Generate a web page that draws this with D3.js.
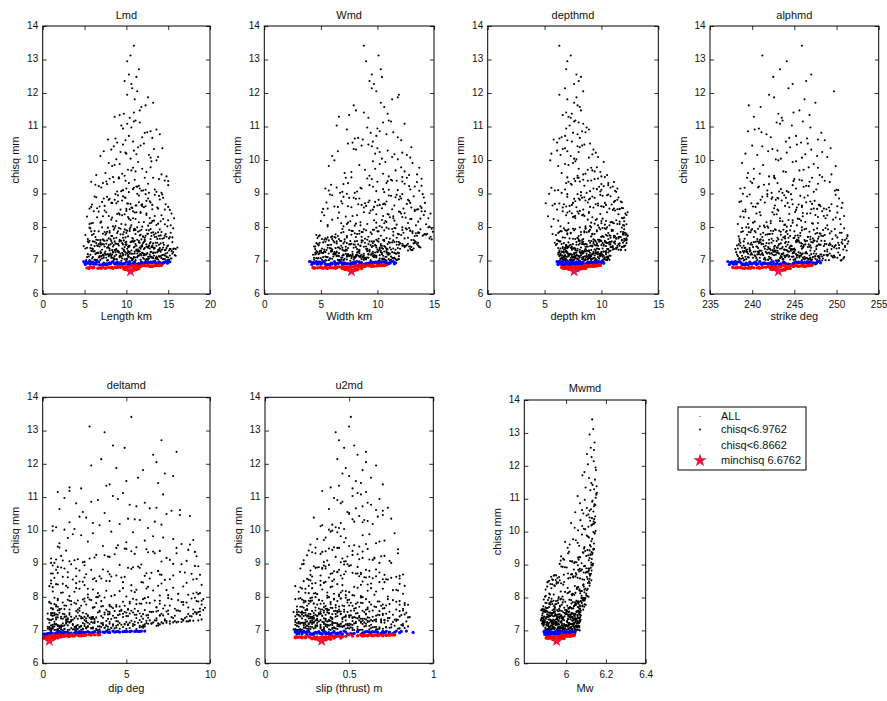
<!DOCTYPE html>
<html>
<head>
<meta charset="utf-8">
<script src="https://cdn.jsdelivr.net/npm/d3@7"></script>
<style>
  body { margin: 0; background: #fff; }
  text { font-family: "Liberation Sans", Arial, Helvetica, sans-serif; fill: #111; }
</style>
</head>
<body>
<svg id="chart" width="887" height="701"></svg>
<script>
// ---- Monte Carlo samples: misfit and the seven source parameters of each sample ----
const chisq = [
  6.99,7.02,7.15,7.08,7.27,7.11,7.04,7.21,7.18,7.01,7.24,7.06,7.13,7.29,7.09,7.17,7.03,7.22,7.12,7.26,
  7.05,7.19,7.00,7.28,7.14,7.07,7.23,7.10,7.16,7.02,7.25,7.20,7.08,7.13,7.29,7.01,7.18,7.04,7.22,7.11,
  7.16,7.03,7.27,7.09,7.21,7.00,7.14,7.24,7.06,7.19,7.12,7.28,7.02,7.17,7.10,7.23,7.05,7.26,7.15,7.08,
  7.22,7.11,7.04,7.18,7.29,7.07,7.13,7.01,7.25,7.16,7.09,7.20,7.03,7.27,7.14,7.06,7.24,7.12,7.00,7.19,
  7.10,7.26,7.17,7.02,7.21,7.13,7.05,7.28,7.08,7.23,7.15,7.01,7.19,7.11,7.25,7.04,7.16,7.22,7.07,7.14,
  7.31,7.45,7.38,7.56,7.33,7.49,7.42,7.59,7.36,7.52,7.40,7.47,7.34,7.58,7.43,7.37,7.54,7.31,7.50,7.44,
  7.39,7.57,7.32,7.46,7.53,7.35,7.48,7.41,7.60,7.37,7.51,7.44,7.30,7.55,7.42,7.49,7.34,7.58,7.39,7.46,
  7.52,7.36,7.43,7.31,7.57,7.48,7.40,7.54,7.33,7.45,7.59,7.38,7.50,7.35,7.47,7.56,7.41,7.32,7.53,7.44,
  7.47,7.33,7.55,7.40,7.36,7.51,7.58,7.42,7.30,7.49,7.37,7.54,7.45,7.39,7.60,7.34,7.48,7.43,7.57,7.35,
  7.62,7.81,7.70,7.95,7.66,7.88,7.74,7.99,7.64,7.85,7.77,7.92,7.68,7.83,7.61,7.90,7.72,7.97,7.79,7.86,
  7.75,7.63,7.93,7.69,7.87,7.80,7.65,7.96,7.73,7.84,7.61,7.91,7.78,7.67,7.98,7.71,7.89,7.76,7.64,7.82,
  7.88,7.71,7.66,7.94,7.79,7.62,7.85,7.74,7.99,7.68,7.83,7.90,7.63,7.77,7.96,7.70,7.87,7.65,7.81,7.93,
  8.03,8.27,8.12,8.44,8.08,8.35,8.19,8.49,8.05,8.31,8.15,8.40,8.22,8.01,8.38,8.10,8.46,8.25,8.17,8.33,
  8.14,8.41,8.06,8.29,8.47,8.20,8.02,8.36,8.11,8.43,8.24,8.09,8.32,8.18,8.48,8.04,8.39,8.26,8.13,8.45,
  8.52,8.78,8.61,8.93,8.57,8.84,8.68,8.99,8.55,8.73,8.88,8.63,8.96,8.70,8.51,8.81,8.66,8.91,8.59,8.76,
  8.64,8.90,8.53,8.79,8.97,8.69,8.56,8.85,8.72,8.60,8.94,8.75,8.58,8.87,8.67,8.98,8.54,8.82,8.71,8.62,
  9.04,9.31,9.12,9.45,9.08,9.26,9.39,9.17,9.49,9.02,9.35,9.21,9.43,9.10,9.28,9.47,9.15,9.37,9.06,9.23,
  9.53,9.78,9.61,9.94,9.57,9.85,9.69,9.99,9.55,9.74,9.88,9.64,9.91,9.71,9.51,9.82,9.66,9.96,9.59,9.77,
  10.04,10.31,10.15,10.46,10.09,10.26,10.38,10.19,10.49,10.02,10.35,10.22,10.43,10.12,10.28,10.07,10.41,10.17,10.33,10.24,
  10.55,10.83,10.64,11.12,10.59,10.91,10.72,11.18,10.61,10.86,11.03,10.68,10.97,10.77,10.52,11.08,10.81,10.94,10.66,11.15,
  11.26,11.58,11.34,11.87,11.42,12.05,11.29,11.71,11.95,11.48,11.38,12.14,11.63,11.81,
  12.27,12.48,12.95,13.12,12.36,13.41,12.71,12.55,
  7.03,7.18,7.10,7.26,7.01,7.14,7.22,7.07,7.29,7.12,7.05,7.20,7.16,7.00,7.24,7.09,7.27,7.13,7.04,7.19,
  7.21,7.06,7.28,7.11,7.17,7.02,7.25,7.15,7.08,7.23,7.00,7.13,7.27,7.04,7.18,7.10,7.22,7.06,7.29,7.14,
  7.12,7.24,7.01,7.19,7.07,7.28,7.15,7.03,7.21,7.10,7.26,7.05,7.17,7.09,7.23,7.02,7.13,7.25,7.08,7.20,
  7.27,7.09,7.16,7.04,7.22,7.11,7.00,7.25,7.13,7.18,7.06,7.29,7.02,7.20,7.14,7.26,7.08,7.17,7.11,7.23,
  7.33,7.51,7.42,7.59,7.36,7.47,7.31,7.55,7.40,7.49,7.34,7.57,7.44,7.38,7.53,7.30,7.46,7.41,7.58,7.37,
  7.48,7.35,7.56,7.43,7.32,7.52,7.39,7.60,7.45,7.34,7.50,7.41,7.57,7.36,7.47,7.54,7.31,7.44,7.38,7.53,
  7.40,7.58,7.33,7.49,7.45,7.37,7.55,7.30,7.52,7.42,7.59,7.35,7.48,7.43,7.32,7.56,7.39,7.51,7.46,7.34,
  7.67,7.84,7.73,7.91,7.62,7.79,7.95,7.70,7.86,7.64,7.82,7.98,7.75,7.68,7.89,7.61,7.77,7.93,7.72,7.80,
  7.80,7.66,7.94,7.74,7.87,7.63,7.97,7.71,7.83,7.69,7.90,7.76,7.62,7.85,7.99,7.78,7.65,7.92,7.73,7.88,
  8.07,8.33,8.16,8.42,8.02,8.28,8.21,8.47,8.11,8.37,8.05,8.24,8.44,8.13,8.30,8.09,8.40,8.18,8.35,8.26,
  8.58,8.81,8.66,8.95,8.52,8.74,8.89,8.62,8.98,8.70,8.55,8.85,8.68,8.92,8.60,8.77,8.53,8.87,8.72,8.64,
  9.07,9.29,9.18,9.41,9.02,9.34,9.13,9.47,9.22,9.09,9.38,9.25,9.44,9.15,9.31,9.05,9.36,9.20,9.48,9.11
];
const lengthKm = [
  9.4,6.2,11.8,13.7,7.5,10.3,14.6,8.1,12.4,5.6,9.9,15.3,7.0,11.2,13.1,8.8,10.7,6.6,12.9,14.1,
  10.1,7.8,13.4,5.9,11.5,8.5,14.9,9.2,12.1,6.9,15.6,10.6,7.3,13.9,9.7,11.1,8.3,14.4,6.4,12.6,
  12.2,8.9,6.1,10.9,14.7,7.7,11.4,13.3,9.5,5.4,12.8,10.2,15.1,8.0,6.8,11.9,13.6,9.1,7.2,10.5,
  7.4,13.0,9.8,11.6,5.8,14.2,8.6,12.3,10.4,15.8,6.7,9.3,13.8,11.0,7.9,12.7,8.4,14.8,10.0,6.3,
  11.3,9.0,14.5,6.5,12.0,8.2,10.8,15.4,7.6,13.5,9.6,5.2,11.7,14.0,8.7,12.5,10.2,6.9,13.2,9.3,
  8.3,12.7,5.3,10.6,14.3,7.1,11.9,9.4,15.7,6.4,13.1,10.0,8.8,12.2,4.9,14.8,9.9,11.3,7.6,13.6,
  10.9,6.0,13.8,8.5,11.6,15.2,7.3,12.4,9.7,5.7,14.1,10.3,8.0,12.9,6.8,11.1,15.9,9.2,13.3,7.9,
  12.0,9.5,6.6,14.6,10.8,8.1,13.0,5.5,11.4,15.0,7.4,12.6,9.0,10.1,13.9,6.2,11.8,8.7,14.4,10.4,
  7.0,11.2,15.5,9.8,5.9,12.8,10.7,8.4,14.0,6.9,13.4,11.5,9.1,16.1,7.7,12.1,10.0,14.9,8.6,11.7,
  9.2,13.5,6.3,11.0,15.1,8.0,12.3,10.5,5.4,14.2,7.5,11.8,9.6,13.0,6.9,12.7,10.2,8.6,14.7,11.4,
  11.6,7.2,14.0,9.9,5.8,12.5,10.8,15.6,8.3,13.2,6.6,11.1,9.3,14.5,7.8,12.0,10.1,5.1,13.7,8.9,
  10.4,14.8,8.5,12.9,6.1,11.3,9.7,13.9,7.1,12.2,15.3,10.0,8.1,11.7,5.7,13.4,9.0,14.3,7.6,10.9,
  8.7,12.8,6.0,11.2,14.6,9.5,13.3,7.4,10.6,5.3,12.1,15.4,8.2,11.9,9.8,13.8,6.7,10.3,14.1,7.9,
  11.5,9.1,13.6,6.5,10.8,15.0,8.4,12.4,5.8,11.0,14.4,9.4,7.2,13.1,10.0,12.6,8.9,15.7,6.9,11.7,
  9.3,12.4,6.8,13.9,10.7,8.0,14.7,11.3,5.6,12.9,9.8,7.4,13.4,10.2,15.2,8.6,11.8,6.2,12.1,9.0,
  11.1,7.7,13.1,9.5,14.3,10.5,6.5,12.6,8.3,15.0,11.5,7.1,13.7,9.9,5.9,12.3,10.0,14.0,8.8,11.9,
  10.3,7.2,13.4,9.1,11.8,6.3,14.6,10.9,8.4,12.7,5.8,11.2,13.9,9.6,7.7,12.2,10.0,15.0,8.9,11.5,
  9.8,12.9,7.5,11.4,14.2,8.6,10.6,13.6,6.4,11.9,9.2,12.4,7.9,10.2,14.8,8.3,11.1,13.0,9.5,10.8,
  10.5,8.2,12.7,9.6,13.8,7.3,11.4,10.0,12.1,8.8,14.3,9.9,11.7,6.9,10.9,12.9,8.5,11.2,13.3,9.3,
  10.8,12.5,8.7,11.6,9.9,13.6,10.3,11.1,7.8,12.9,9.4,11.9,10.6,14.0,8.9,10.1,12.2,9.6,13.1,10.9,
  10.4,11.8,9.2,12.6,10.9,11.3,8.6,13.2,10.1,11.6,9.7,10.7,12.3,11.0,
  10.6,11.2,10.1,10.5,9.8,10.9,11.5,10.3,
  8.6,12.8,6.0,11.4,14.9,7.3,10.1,13.5,9.0,5.5,12.1,15.5,8.0,10.7,6.6,13.0,11.6,7.9,14.4,9.6,
  11.0,7.1,13.8,9.4,5.7,12.6,10.3,15.2,8.3,11.9,6.4,14.1,9.8,12.4,7.6,10.9,13.2,5.9,8.9,15.9,
  13.6,9.1,7.8,12.2,10.6,6.2,14.6,8.5,11.3,5.3,13.0,10.0,7.2,15.0,9.5,11.7,6.8,12.9,8.2,10.4,
  6.9,11.1,14.3,8.8,12.5,10.2,5.6,13.7,9.2,7.5,15.4,11.5,6.3,10.8,13.3,8.4,12.0,9.9,14.8,7.0,
  9.7,13.2,7.4,11.0,5.1,14.5,8.6,12.1,10.3,6.7,15.3,9.2,11.8,7.9,13.7,10.6,5.8,12.5,8.2,14.0,
  12.4,8.0,10.9,6.2,14.2,9.5,11.6,7.3,13.1,15.6,8.8,10.2,5.4,12.8,9.9,6.9,14.7,11.2,7.7,13.5,
  7.8,11.5,13.9,9.0,6.5,12.2,10.5,15.1,8.3,11.0,5.6,13.3,9.6,12.7,7.1,10.0,14.4,8.7,11.9,6.0,
  10.7,13.8,8.2,12.4,6.4,11.1,9.3,15.2,7.7,12.9,10.0,5.6,14.1,8.8,11.6,6.9,13.3,9.8,12.0,7.2,
  12.6,7.9,10.4,14.6,6.7,11.8,9.1,13.6,8.0,15.5,10.9,5.9,12.2,7.4,11.3,9.6,14.0,8.5,13.0,6.2,
  9.9,13.4,7.0,11.7,14.9,8.3,10.5,6.1,12.8,9.2,15.3,11.1,7.6,13.0,10.2,5.6,12.4,8.8,14.2,10.8,
  10.6,7.9,13.1,9.0,14.6,11.5,6.4,12.3,8.7,10.1,13.8,7.3,11.9,9.6,5.8,12.8,10.4,14.4,8.2,11.2,
  9.4,12.6,7.0,11.0,14.2,8.5,10.8,13.2,6.7,12.0,9.9,15.0,8.0,11.6,10.3,13.6,7.6,11.3,9.1,12.3
];
const widthKm = [
  7.6,5.1,9.8,11.3,6.4,8.7,10.5,4.6,9.2,7.0,11.8,5.8,8.1,10.1,6.9,9.5,7.3,11.0,5.4,8.4,
  9.0,6.1,10.8,4.9,8.3,7.7,11.5,5.6,9.7,6.6,10.3,8.8,4.4,11.9,7.2,9.4,6.3,10.6,5.2,8.0,
  10.2,7.9,5.0,9.1,11.6,6.7,8.5,10.9,4.7,7.4,9.9,6.0,11.2,8.2,5.5,10.4,7.1,9.6,6.5,8.9,
  6.2,10.7,8.6,4.5,9.3,11.4,7.5,5.7,10.0,8.1,6.8,11.7,9.0,5.3,7.8,10.2,6.4,8.7,11.1,4.8,
  8.5,5.9,11.0,7.0,9.6,6.6,10.4,4.6,8.0,11.5,7.6,5.4,9.2,10.8,6.2,8.8,7.3,11.9,5.0,9.9,
  8.4,12.3,5.6,10.1,7.2,13.5,9.0,6.1,11.4,4.6,10.7,8.0,12.9,6.8,9.6,11.8,5.2,13.1,7.7,10.3,
  11.1,6.4,9.3,12.6,4.9,10.5,7.6,13.7,8.6,5.8,12.0,9.9,7.0,11.5,4.4,10.9,8.2,13.3,6.6,9.4,
  7.3,10.8,12.5,5.5,9.7,8.3,13.0,6.2,11.2,4.8,10.0,7.9,12.2,9.1,5.9,11.7,8.8,6.9,13.6,10.4,
  9.8,5.3,11.9,8.1,13.2,7.0,10.6,4.5,12.7,9.2,6.3,11.3,8.5,13.8,5.7,10.2,7.5,12.4,9.5,6.7,
  9.1,13.4,6.2,11.0,14.6,7.8,10.3,12.2,5.1,8.7,14.1,9.6,11.7,6.8,13.0,10.6,4.8,12.8,8.2,14.9,
  11.4,7.1,13.8,5.6,10.0,14.4,8.9,12.5,6.5,9.4,13.2,7.5,11.9,4.7,10.8,14.7,8.4,12.1,6.0,13.6,
  12.9,8.6,5.4,11.3,14.2,9.9,7.0,13.5,10.4,6.3,12.3,9.0,14.8,7.7,11.6,5.9,13.1,10.1,8.0,12.6,
  10.2,6.5,12.7,8.8,14.3,5.3,11.5,9.4,13.4,7.2,10.8,12.1,6.0,14.6,9.9,8.1,11.9,13.8,7.6,10.5,
  8.5,12.4,5.6,11.1,13.9,9.7,7.0,14.1,10.6,6.6,12.9,9.1,11.4,5.0,13.3,8.0,10.9,14.5,7.4,12.0,
  9.6,12.8,6.2,11.2,13.9,8.1,10.5,7.3,12.3,5.5,14.1,9.0,11.7,6.9,13.3,10.1,8.6,12.0,7.7,10.8,
  11.5,7.0,13.6,9.3,5.8,12.6,10.4,8.4,14.2,6.5,11.0,9.8,13.0,7.5,10.7,12.2,5.2,11.9,8.9,13.8,
  10.6,7.4,12.9,9.1,13.7,5.9,11.3,8.5,12.2,6.7,10.0,13.3,9.5,11.8,7.0,12.6,5.4,10.9,8.2,13.9,
  9.3,12.1,7.1,10.7,13.5,8.4,11.6,6.2,12.8,9.8,10.2,7.7,13.1,8.9,11.0,5.7,12.4,9.6,10.5,13.7,
  10.4,8.1,12.6,9.2,11.3,6.5,13.0,9.8,7.4,11.8,10.0,12.2,8.6,6.0,10.9,12.9,9.5,11.5,7.9,10.2,
  9.6,11.4,8.0,10.5,12.1,7.3,9.9,11.0,8.7,10.2,6.4,11.8,9.1,10.8,7.8,12.4,9.4,10.0,8.3,11.2,
  9.2,10.6,7.5,11.8,8.8,9.9,6.6,10.3,11.9,8.1,10.9,9.5,7.9,11.3,
  9.7,10.4,9.0,10.1,9.3,8.8,10.3,9.5,
  6.8,10.9,5.2,9.3,11.7,7.5,8.4,4.6,10.3,6.1,8.9,11.1,7.0,5.5,9.8,8.0,10.6,6.4,11.9,7.8,
  9.5,5.8,10.8,7.3,8.6,4.4,11.3,6.9,9.0,5.1,10.1,7.7,8.3,11.6,6.2,9.7,4.9,10.5,7.1,8.8,
  11.2,8.2,6.5,10.4,4.8,9.1,7.4,11.8,5.7,8.7,10.0,6.0,9.4,7.9,4.5,10.7,8.5,5.4,11.5,7.2,
  5.3,9.9,7.6,11.0,6.6,8.1,10.2,4.7,9.6,7.0,11.4,5.9,8.8,6.3,10.5,7.8,9.2,4.3,8.4,10.8,
  10.0,6.4,12.8,8.7,5.1,11.7,7.3,13.4,9.5,4.7,10.9,8.0,12.2,6.9,11.1,9.1,5.6,13.7,7.6,10.4,
  7.9,12.0,5.4,10.6,8.4,13.3,6.5,11.4,9.8,4.5,12.7,7.2,9.3,5.9,11.9,8.6,13.0,6.8,10.2,8.9,
  12.4,8.2,6.0,10.3,13.6,7.4,11.0,5.0,9.6,12.9,6.7,10.8,4.8,8.5,11.6,7.1,9.9,13.2,5.7,9.0,
  10.8,13.6,7.3,12.2,5.3,9.5,14.8,8.1,11.4,6.6,13.1,9.9,4.9,12.7,7.7,10.5,14.3,8.8,6.0,11.8,
  8.4,12.4,6.9,14.0,10.1,5.5,11.5,9.2,13.7,7.3,12.9,4.6,10.6,8.6,14.5,6.3,11.1,9.7,13.3,7.8,
  11.7,7.8,13.6,9.3,5.6,12.5,10.4,14.2,6.8,11.0,8.5,13.0,5.1,9.9,12.2,7.3,14.7,10.7,8.2,11.4,
  8.8,12.7,10.2,6.0,13.5,9.2,11.6,7.4,14.0,10.6,5.6,12.1,8.3,13.2,9.7,6.8,11.3,7.9,12.9,10.0,
  9.9,12.4,6.4,11.2,8.0,13.5,10.5,7.2,12.8,5.7,11.7,9.3,13.9,8.6,10.8,6.9,12.2,9.6,7.7,11.0
];
const depthKm = [
  8.1,6.7,9.4,7.5,10.2,8.8,6.4,9.9,7.2,8.5,10.6,7.9,9.1,6.9,8.3,10.0,7.4,9.6,8.6,6.6,
  9.2,7.1,8.0,10.4,6.5,8.9,7.7,9.7,6.8,10.7,8.4,7.3,9.0,6.3,8.7,10.1,7.6,9.5,8.2,6.9,
  7.8,10.3,8.6,6.6,9.3,7.0,10.8,8.1,6.4,9.8,7.5,8.9,10.5,7.2,9.0,6.7,8.4,10.0,7.9,9.4,
  10.0,7.4,9.1,6.2,8.5,10.6,7.7,9.6,6.9,8.2,10.3,7.1,8.8,6.5,9.9,7.8,8.3,10.5,6.8,9.2,
  8.7,6.5,10.1,7.6,9.5,6.8,8.0,10.7,7.3,9.0,6.6,8.6,10.4,7.0,9.7,8.3,6.4,9.3,7.7,10.2,
  9.5,7.2,11.3,8.4,10.6,6.5,12.0,8.9,7.6,10.1,11.8,6.9,9.8,8.0,11.0,7.4,10.4,9.1,6.1,11.6,
  8.2,10.9,6.7,9.6,11.9,7.9,10.2,8.6,12.2,7.0,9.3,11.4,6.3,10.7,8.8,7.5,11.1,9.9,6.9,10.0,
  10.5,7.7,9.0,11.7,6.4,8.5,10.8,7.1,9.4,12.1,8.1,6.8,11.2,9.7,7.3,10.3,8.7,11.5,5.9,9.2,
  7.8,11.0,8.3,6.6,10.1,9.6,12.0,7.4,8.9,11.5,6.2,10.4,9.1,7.0,11.8,8.6,10.7,6.9,9.5,11.3,
  9.8,7.3,11.5,8.6,12.2,6.4,10.5,9.1,7.7,11.9,8.2,10.9,6.8,12.1,9.4,7.0,11.2,10.1,5.7,11.7,
  10.7,8.0,12.0,6.6,9.6,11.4,7.5,10.3,12.3,8.7,6.1,11.0,9.2,7.9,11.8,10.0,6.9,12.1,8.4,10.6,
  8.9,11.6,7.2,10.4,12.2,9.7,6.3,11.1,8.1,10.8,12.0,7.6,9.3,11.9,6.7,10.2,8.5,11.3,7.0,9.9,
  9.0,11.8,7.1,10.5,12.2,8.3,6.2,11.2,9.7,7.6,10.9,12.1,8.8,5.6,11.5,9.4,7.9,10.1,12.0,8.5,
  10.8,7.4,11.9,9.2,6.6,11.3,8.6,12.2,10.0,7.0,9.6,11.6,5.3,10.4,8.1,12.0,9.9,7.7,11.0,8.9,
  8.4,11.2,6.9,10.1,11.8,7.6,9.5,5.4,10.7,8.8,11.5,7.2,9.9,6.3,11.0,8.1,10.4,9.2,7.8,11.7,
  9.7,7.0,11.4,8.6,10.6,5.9,11.9,9.0,7.5,10.2,8.2,11.1,6.6,9.4,10.9,7.9,11.6,8.9,5.1,10.0,
  8.2,10.6,6.8,9.7,11.2,7.4,9.1,5.6,10.3,8.7,7.1,11.0,9.4,6.2,10.0,8.0,11.4,7.7,9.9,8.5,
  7.9,9.6,6.5,10.2,8.4,7.1,9.2,5.5,10.5,8.0,6.8,9.9,7.5,8.8,10.0,6.2,9.4,7.7,8.6,9.1,
  7.6,9.3,6.4,8.5,9.7,7.0,8.1,5.6,9.0,7.8,6.8,9.5,8.3,7.3,6.1,8.9,7.9,9.2,6.6,8.0,
  7.4,8.6,6.3,8.0,7.0,8.9,6.8,7.7,5.8,8.3,7.2,6.5,8.7,7.9,6.1,8.4,7.5,6.9,8.1,7.6,
  7.3,8.1,6.6,7.8,6.9,8.4,7.1,7.6,6.3,8.2,7.4,6.8,7.9,7.0,
  7.6,8.2,7.0,7.3,8.0,6.3,6.9,7.8,
  7.3,9.7,8.4,6.7,10.5,8.0,7.0,9.3,10.8,7.7,8.8,6.4,9.9,7.5,8.2,10.3,6.9,9.0,8.6,7.2,
  9.5,6.8,8.3,10.1,7.4,9.1,6.3,8.7,10.6,7.8,9.4,7.1,8.5,6.6,10.0,8.1,7.6,9.8,6.9,8.9,
  8.5,10.4,7.2,9.2,6.5,8.8,10.7,7.9,9.6,6.7,8.1,10.2,7.4,9.0,6.2,8.6,9.9,7.0,10.5,8.3,
  10.2,7.6,9.0,6.9,8.4,10.6,7.3,9.5,8.0,6.4,9.8,7.8,10.4,8.7,7.1,9.3,6.6,8.9,7.7,10.0,
  8.6,11.6,7.0,10.3,6.4,9.4,12.1,7.8,10.9,8.3,6.8,11.2,9.7,7.3,10.6,8.9,6.0,11.9,9.1,7.6,
  10.8,7.5,9.3,12.0,8.1,6.7,11.4,9.9,7.2,10.5,8.6,11.8,6.3,9.6,8.0,11.1,7.7,10.2,6.9,9.0,
  7.1,10.0,11.7,8.4,9.5,6.6,10.8,7.9,12.2,9.2,6.2,11.3,8.7,10.4,7.4,9.8,11.0,8.1,6.9,10.6,
  11.3,8.5,10.1,6.8,12.1,9.4,7.5,11.7,8.9,10.6,6.2,9.8,12.3,7.9,11.0,8.3,10.4,7.1,9.1,11.9,
  9.2,11.5,7.7,10.8,6.5,12.2,8.6,10.0,7.3,11.1,9.6,6.0,11.8,8.2,10.5,7.0,12.0,9.0,8.0,10.9,
  10.3,7.7,11.6,8.9,6.4,12.0,9.5,7.2,11.1,8.4,10.7,5.8,12.3,9.1,7.5,11.4,8.0,10.0,6.9,11.9,
  9.3,11.4,7.4,10.5,6.1,11.8,8.5,10.0,7.0,9.7,11.1,8.0,6.7,10.8,9.0,7.7,11.6,8.3,10.3,5.7,
  9.0,7.3,10.8,8.4,6.5,11.1,9.6,7.9,10.2,5.9,8.8,10.6,7.6,9.3,6.9,11.3,8.1,9.8,7.0,10.0
];
const strikeDeg = [
  243.2,239.1,246.8,241.5,248.9,244.7,238.4,247.3,240.6,245.9,250.2,242.1,244.0,239.8,247.9,241.0,246.2,243.7,249.5,240.2,
  245.1,240.8,248.3,238.9,243.9,246.5,241.7,249.8,242.6,244.9,239.4,247.6,240.1,245.6,243.0,250.6,238.2,246.9,242.3,248.0,
  241.3,247.1,244.4,239.6,249.2,242.8,245.3,238.6,246.1,243.5,240.4,248.6,241.9,244.2,250.9,239.0,247.5,242.5,245.7,240.9,
  246.3,242.0,239.3,248.1,244.6,240.5,247.8,243.1,238.1,245.4,249.6,241.2,246.7,239.7,243.8,248.4,240.7,244.9,242.9,247.0,
  239.5,244.3,249.0,241.6,246.0,243.4,238.7,247.4,242.2,245.0,240.3,248.7,243.6,239.2,246.4,241.4,250.4,244.8,238.5,245.8,
  242.4,247.7,239.2,245.3,250.8,241.1,244.5,248.2,238.3,243.9,246.6,240.0,249.4,242.9,245.8,239.7,247.2,244.1,251.3,241.6,
  246.0,240.6,244.8,249.1,238.6,243.3,247.9,241.4,245.5,250.3,239.5,242.7,246.9,240.2,244.0,248.6,238.0,245.2,243.0,249.9,
  240.8,245.0,248.5,242.2,239.0,246.3,243.6,250.6,241.8,244.6,247.4,238.8,245.9,242.6,249.3,240.4,246.8,243.8,239.9,251.0,
  244.2,239.4,247.0,241.9,250.0,243.4,238.5,246.1,242.8,248.8,240.7,245.6,243.1,249.7,241.3,247.6,239.8,244.7,251.4,242.0,
  243.5,248.0,240.2,246.4,251.2,242.5,245.1,239.3,249.5,244.0,241.6,247.3,243.0,250.4,240.9,245.9,238.4,248.7,242.1,246.8,
  245.4,241.0,249.0,243.7,238.9,247.5,242.3,250.9,244.5,240.4,246.2,248.4,241.8,244.9,239.6,247.9,243.2,251.3,240.6,245.7,
  240.3,246.6,243.9,249.8,242.0,245.3,238.7,248.2,241.5,244.3,250.6,239.9,246.9,243.4,247.7,241.2,245.0,239.1,249.2,242.7,
  244.6,239.6,247.8,242.4,250.5,241.0,245.8,243.1,248.9,238.6,246.3,240.5,249.6,244.1,242.9,247.2,239.2,245.4,243.6,250.9,
  241.7,246.9,243.8,239.0,248.3,244.8,240.9,247.5,242.2,250.1,245.6,238.3,246.0,243.3,249.2,241.4,244.4,248.7,240.1,245.1,
  243.0,247.4,240.1,245.7,250.6,242.3,244.8,238.9,248.5,241.5,246.2,243.9,249.9,240.7,245.2,242.8,247.9,239.4,244.4,246.9,
  245.9,241.2,248.8,243.5,239.7,247.1,242.6,250.3,244.2,240.4,246.6,238.5,249.1,243.0,245.5,241.8,247.7,244.7,239.9,248.1,
  244.3,240.0,247.6,242.7,249.8,241.4,245.9,239.1,248.3,243.6,246.8,240.8,245.0,250.2,242.0,247.1,238.6,244.9,243.2,246.4,
  242.6,246.7,239.5,244.8,249.4,241.3,245.6,243.1,248.0,240.2,247.3,244.0,238.8,246.1,242.0,249.9,243.7,245.2,240.9,247.8,
  243.4,247.0,240.6,245.3,248.9,241.9,244.5,239.2,246.6,242.8,249.3,244.1,240.0,247.7,243.0,245.9,241.2,246.3,242.4,248.3,
  244.0,241.1,246.5,242.9,248.6,240.3,245.2,243.6,247.8,239.5,244.7,242.2,246.9,241.7,245.8,243.3,248.2,240.8,244.4,246.0,
  243.5,241.0,246.8,242.6,244.9,249.7,240.2,247.5,242.0,245.6,243.1,244.3,239.6,246.2,
  244.8,242.5,244.1,241.2,246.4,245.9,243.3,247.0,
  244.5,240.0,247.2,242.7,249.1,238.8,245.7,243.3,241.1,248.3,246.6,239.5,244.1,250.5,242.0,246.0,240.7,247.9,243.6,245.2,
  241.8,246.8,239.1,244.8,248.8,242.3,245.5,240.3,250.1,243.1,247.0,238.3,245.0,241.5,248.2,243.9,239.9,246.3,242.6,249.4,
  247.4,243.0,240.6,245.9,238.9,244.2,249.7,241.9,246.5,243.5,239.3,248.0,242.8,245.3,240.8,247.7,244.4,238.6,246.9,242.1,
  240.4,245.6,248.5,243.7,241.2,246.2,239.0,244.9,247.5,242.4,250.8,240.9,245.1,243.2,248.9,241.6,246.4,239.8,244.3,242.9,
  243.8,249.2,240.5,246.5,242.1,248.0,239.3,245.2,251.0,241.3,244.7,247.7,238.6,243.0,250.2,240.9,246.1,242.6,248.6,244.4,
  246.7,241.5,244.0,249.8,239.7,245.8,242.9,247.3,238.2,244.9,250.7,240.6,246.3,243.5,248.1,241.0,245.1,239.0,247.0,242.3,
  240.1,245.4,248.9,243.2,246.9,239.1,244.3,251.2,241.7,247.6,242.5,245.9,238.4,249.5,243.9,240.8,246.0,242.0,250.3,244.6,
  245.0,239.8,248.4,242.8,250.7,244.2,240.7,246.6,243.4,238.5,247.7,241.9,249.9,245.5,242.2,251.0,239.4,246.2,243.9,248.1,
  242.4,247.2,240.0,245.7,249.4,243.1,238.8,246.9,241.3,250.1,244.5,248.6,242.0,239.6,245.9,241.0,247.8,243.7,251.3,244.1,
  243.9,248.5,240.3,246.0,241.8,249.9,244.3,238.9,247.1,242.6,245.3,250.4,240.9,244.8,247.8,239.5,246.5,242.2,248.9,243.3,
  245.3,241.0,248.0,243.8,239.2,246.4,242.4,250.1,244.6,240.6,247.3,243.1,249.4,241.8,245.9,238.7,247.0,244.0,250.7,242.7,
  244.1,247.8,240.7,245.6,242.3,249.2,243.4,239.4,246.7,241.8,248.6,244.8,240.2,245.2,243.0,247.3,239.8,246.1,242.6,250.0
];
const dipDeg = [
  1.2,3.4,5.1,0.6,7.9,2.3,4.6,6.2,1.8,0.4,8.3,2.9,3.8,6.8,1.1,4.2,2.0,5.7,0.9,3.1,
  2.6,4.9,0.7,8.8,1.5,3.7,6.6,0.3,5.5,1.9,3.3,7.2,2.2,4.4,9.3,0.9,2.8,5.0,1.4,6.1,
  3.6,1.3,7.4,4.8,2.4,0.5,6.0,4.0,1.7,7.6,2.7,5.3,3.9,0.8,5.9,1.6,4.3,8.7,2.1,3.0,
  5.2,0.6,3.2,2.5,6.4,4.1,1.0,2.3,8.1,4.7,3.5,1.2,5.6,3.8,6.9,0.4,2.9,5.4,1.5,6.3,
  2.0,4.5,7.0,1.1,3.6,5.8,0.5,9.0,2.6,7.8,1.8,4.0,6.5,3.3,0.7,2.4,5.1,3.0,6.0,1.3,
  1.5,6.3,3.2,9.4,0.6,4.8,2.7,7.5,5.6,1.0,8.6,3.9,0.3,6.9,2.2,4.4,9.1,1.8,5.2,7.2,
  3.0,8.2,0.8,5.5,2.1,6.8,4.0,1.4,9.6,3.6,0.5,7.0,2.5,4.9,8.8,1.2,6.0,3.4,7.7,0.9,
  5.0,2.4,7.9,0.4,4.3,9.2,1.7,6.5,3.1,0.7,8.0,2.9,5.8,1.1,4.6,7.4,2.0,9.5,3.7,6.2,
  0.8,4.1,6.6,2.3,8.5,1.6,5.3,3.5,0.5,7.1,2.8,9.3,4.5,1.3,6.1,3.9,8.7,0.6,5.7,2.6,
  2.1,6.4,0.9,8.9,4.2,1.6,7.3,3.3,5.5,0.4,9.5,2.8,6.8,1.2,4.7,8.1,3.6,0.7,5.9,2.5,
  4.4,1.0,7.7,3.1,9.2,5.2,0.6,6.1,2.3,8.4,3.8,1.5,5.6,9.7,2.7,0.8,6.7,4.0,7.9,1.9,
  7.0,3.5,0.5,5.4,2.0,9.0,4.8,1.3,6.3,3.0,8.6,0.9,5.1,2.6,7.5,4.1,1.7,9.4,3.2,6.0,
  3.4,7.8,1.1,5.9,9.3,2.5,6.6,0.5,4.3,8.4,1.9,7.1,3.0,5.0,0.8,9.0,2.2,6.2,4.6,1.4,
  5.5,2.0,8.7,0.6,4.0,7.4,1.6,9.5,3.3,6.0,2.7,8.1,0.4,5.3,3.8,7.0,1.2,4.8,9.2,2.4,
  1.8,6.9,4.1,9.1,0.7,5.3,2.6,7.8,3.5,8.5,1.1,6.1,4.6,0.5,7.3,2.9,9.4,5.7,1.5,3.9,
  4.4,0.9,7.6,2.2,5.9,8.9,3.1,1.3,6.5,4.9,0.6,8.2,2.5,5.1,7.0,1.7,9.2,3.6,6.2,2.0,
  2.4,6.7,0.8,4.9,8.6,3.2,1.4,7.4,5.6,0.5,9.1,3.9,6.2,1.9,4.3,8.0,2.8,5.3,7.1,1.1,
  3.6,7.2,1.0,5.4,8.8,2.3,6.1,0.6,4.5,7.8,1.8,5.0,3.0,9.0,0.9,6.6,2.7,4.1,8.3,1.5,
  1.9,5.8,3.4,8.2,0.8,6.7,2.6,4.6,7.4,1.3,5.1,3.0,8.8,0.6,4.0,6.3,2.2,7.1,5.5,1.6,
  2.4,6.1,1.0,4.8,7.7,3.3,5.6,1.6,8.2,2.9,4.2,6.8,1.3,5.2,3.7,7.2,2.0,4.5,6.4,0.9,
  2.3,5.7,3.8,4.4,6.9,6.8,1.6,7.3,2.9,5.0,4.0,3.5,7.8,6.0,
  6.6,4.9,3.7,2.8,8.0,5.3,7.1,4.2,
  0.9,5.4,2.2,7.6,1.6,3.8,0.4,4.4,8.8,1.2,2.9,6.5,0.6,3.3,5.0,1.9,2.6,6.8,0.3,4.0,
  3.1,1.0,6.2,0.7,4.9,2.4,1.5,3.6,5.8,7.1,0.5,2.0,4.4,1.3,0.8,3.9,2.7,5.2,8.4,1.1,
  2.5,5.9,0.8,1.4,3.7,7.3,0.9,2.1,4.6,6.0,1.7,3.0,5.1,0.4,8.0,1.8,4.2,2.6,1.1,6.9,
  1.4,2.7,4.5,0.6,7.4,1.0,3.2,5.5,2.3,0.7,4.1,6.7,1.9,3.5,0.5,8.6,2.0,6.1,3.4,1.6,
  2.9,0.7,5.1,8.1,1.9,3.7,0.4,6.4,2.5,9.0,1.2,4.6,7.0,0.9,3.3,5.8,1.6,8.9,2.2,4.3,
  6.0,1.5,3.9,0.6,7.3,2.4,4.8,1.0,9.4,3.0,0.3,5.9,2.0,7.8,1.3,4.0,8.4,2.7,0.8,5.4,
  1.1,4.7,8.3,2.6,0.5,6.3,3.4,1.7,9.2,5.0,0.9,2.3,7.5,4.2,1.4,6.8,3.0,0.6,5.6,2.1,
  3.0,8.3,1.4,5.6,0.6,7.0,2.5,4.4,9.3,1.1,6.2,3.7,0.8,8.7,2.1,5.1,1.7,9.6,4.0,0.5,
  5.8,2.2,0.9,7.6,3.5,1.3,9.1,4.6,0.4,6.8,2.9,8.4,1.6,5.2,3.2,0.7,7.2,2.4,4.9,9.5,
  2.7,6.9,0.6,8.6,4.1,1.5,5.6,3.2,9.4,0.9,7.5,2.2,4.8,1.2,6.3,8.1,0.5,3.8,5.3,2.0,
  4.7,0.8,7.1,2.5,9.0,1.5,5.4,3.4,8.3,0.6,6.4,2.0,4.0,9.3,1.2,6.9,3.0,5.8,0.9,7.8,
  1.6,5.5,3.1,8.7,0.7,6.3,2.1,4.4,9.2,1.2,7.0,3.7,5.0,0.5,8.0,2.5,6.6,4.0,1.0,7.6
];
const slipM = [
  0.34,0.21,0.52,0.68,0.27,0.45,0.79,0.31,0.58,0.19,0.40,0.63,0.25,0.48,0.72,0.36,0.55,0.23,0.43,0.84,
  0.29,0.50,0.18,0.61,0.38,0.74,0.24,0.46,0.33,0.66,0.20,0.53,0.41,0.82,0.28,0.57,0.35,0.70,0.22,0.47,
  0.44,0.26,0.64,0.37,0.19,0.56,0.31,0.76,0.49,0.23,0.60,0.39,0.17,0.51,0.30,0.69,0.42,0.25,0.81,0.35,
  0.22,0.59,0.40,0.28,0.71,0.33,0.47,0.20,0.54,0.37,0.65,0.26,0.43,0.78,0.30,0.52,0.18,0.62,0.39,0.45,
  0.55,0.32,0.24,0.67,0.41,0.19,0.50,0.36,0.75,0.27,0.44,0.58,0.21,0.85,0.34,0.48,0.63,0.29,0.40,0.23,
  0.38,0.24,0.61,0.45,0.19,0.72,0.31,0.53,0.27,0.84,0.42,0.22,0.57,0.35,0.66,0.29,0.49,0.79,0.33,0.20,
  0.47,0.28,0.69,0.36,0.21,0.55,0.40,0.80,0.25,0.62,0.32,0.51,0.18,0.74,0.43,0.26,0.59,0.37,0.86,0.30,
  0.23,0.52,0.34,0.77,0.41,0.27,0.64,0.19,0.46,0.70,0.30,0.56,0.38,0.22,0.83,0.44,0.25,0.60,0.35,0.50,
  0.60,0.36,0.20,0.48,0.73,0.29,0.42,0.26,0.65,0.33,0.54,0.17,0.81,0.39,0.24,0.58,0.45,0.31,0.68,0.28,
  0.33,0.58,0.22,0.45,0.71,0.27,0.50,0.38,0.82,0.24,0.63,0.41,0.30,0.55,0.19,0.76,0.36,0.48,0.26,0.67,
  0.42,0.25,0.60,0.35,0.80,0.29,0.53,0.21,0.69,0.39,0.47,0.32,0.74,0.23,0.57,0.44,0.28,0.85,0.37,0.51,
  0.26,0.65,0.40,0.20,0.54,0.34,0.78,0.46,0.30,0.61,0.23,0.49,0.37,0.70,0.27,0.56,0.43,0.32,0.83,0.18,
  0.37,0.55,0.24,0.68,0.31,0.46,0.79,0.27,0.52,0.40,0.20,0.63,0.34,0.73,0.43,0.29,0.58,0.22,0.48,0.83,
  0.50,0.30,0.65,0.39,0.23,0.76,0.44,0.57,0.26,0.35,0.70,0.41,0.18,0.61,0.33,0.53,0.80,0.28,0.45,0.36,
  0.41,0.62,0.28,0.50,0.75,0.34,0.57,0.23,0.46,0.68,0.31,0.80,0.38,0.54,0.26,0.44,0.71,0.36,0.59,0.48,
  0.33,0.55,0.72,0.27,0.47,0.39,0.64,0.21,0.52,0.78,0.35,0.43,0.60,0.30,0.82,0.49,0.25,0.66,0.40,0.56,
  0.45,0.30,0.62,0.38,0.74,0.52,0.26,0.58,0.41,0.68,0.34,0.49,0.79,0.23,0.55,0.43,0.65,0.36,0.47,0.71,
  0.50,0.36,0.66,0.43,0.27,0.58,0.71,0.40,0.53,0.31,0.62,0.47,0.77,0.35,0.56,0.45,0.68,0.39,0.60,0.48,
  0.47,0.59,0.34,0.70,0.42,0.53,0.29,0.64,0.50,0.38,0.75,0.45,0.56,0.33,0.61,0.44,0.67,0.40,0.52,0.58,
  0.49,0.61,0.38,0.55,0.70,0.43,0.58,0.34,0.66,0.46,0.52,0.73,0.41,0.63,0.50,0.57,0.45,0.68,0.54,0.60,
  0.52,0.63,0.44,0.48,0.57,0.60,0.39,0.46,0.66,0.54,0.70,0.43,0.50,0.58,
  0.55,0.47,0.42,0.50,0.60,0.51,0.44,0.53,
  0.27,0.49,0.20,0.62,0.35,0.44,0.71,0.23,0.56,0.31,0.80,0.40,0.18,0.53,0.29,0.66,0.38,0.47,0.25,0.60,
  0.42,0.24,0.58,0.33,0.75,0.21,0.46,0.37,0.64,0.28,0.52,0.19,0.69,0.35,0.43,0.26,0.57,0.83,0.31,0.49,
  0.36,0.61,0.22,0.45,0.30,0.73,0.40,0.18,0.54,0.27,0.66,0.33,0.48,0.24,0.59,0.38,0.77,0.29,0.51,0.43,
  0.52,0.28,0.39,0.68,0.21,0.46,0.34,0.57,0.25,0.82,0.41,0.30,0.62,0.20,0.50,0.37,0.72,0.26,0.44,0.35,
  0.31,0.55,0.23,0.64,0.40,0.19,0.71,0.47,0.28,0.60,0.36,0.80,0.25,0.52,0.43,0.33,0.67,0.21,0.58,0.39,
  0.45,0.26,0.62,0.34,0.78,0.22,0.50,0.38,0.68,0.29,0.54,0.18,0.43,0.74,0.32,0.59,0.24,0.48,0.85,0.37,
  0.27,0.51,0.40,0.70,0.20,0.46,0.33,0.63,0.24,0.56,0.82,0.35,0.42,0.29,0.66,0.22,0.53,0.38,0.76,0.31,
  0.39,0.62,0.25,0.50,0.78,0.33,0.45,0.21,0.68,0.36,0.57,0.28,0.83,0.42,0.23,0.60,0.31,0.73,0.47,0.35,
  0.29,0.54,0.41,0.72,0.24,0.61,0.37,0.19,0.49,0.66,0.32,0.80,0.44,0.27,0.58,0.39,0.70,0.22,0.52,0.34,
  0.44,0.26,0.66,0.35,0.57,0.21,0.78,0.40,0.30,0.61,0.48,0.24,0.71,0.37,0.53,0.82,0.28,0.46,0.33,0.63,
  0.38,0.60,0.27,0.51,0.73,0.43,0.32,0.66,0.22,0.55,0.80,0.36,0.47,0.29,0.62,0.41,0.70,0.34,0.57,0.45,
  0.48,0.33,0.65,0.40,0.75,0.28,0.56,0.44,0.69,0.37,0.52,0.25,0.61,0.46,0.79,0.35,0.58,0.42,0.30,0.64
];
const mw = [
  5.952,6.031,5.903,5.978,6.058,5.921,6.012,5.889,5.965,6.044,5.937,5.995,6.052,5.880,6.020,5.946,5.987,6.063,5.912,6.004,
  5.968,6.039,5.917,5.884,6.010,5.943,6.061,5.930,5.996,6.048,5.905,6.024,5.958,6.067,5.893,5.982,6.035,5.926,6.054,5.972,
  6.015,5.898,6.070,5.939,5.961,6.027,5.909,6.046,5.975,5.887,6.059,5.932,6.003,5.950,6.041,5.915,5.990,6.064,5.924,6.018,
  5.944,6.056,5.985,5.901,6.033,5.963,6.049,5.919,6.066,5.979,5.896,6.022,5.954,5.883,6.037,5.934,6.007,5.971,6.045,5.911,
  6.026,5.892,5.957,6.060,5.928,6.001,5.941,6.068,5.984,5.906,6.050,5.967,6.013,5.935,5.886,6.029,5.948,6.057,5.914,5.993,
  5.962,6.041,5.887,6.013,5.935,6.068,5.904,5.979,6.052,5.921,6.030,5.949,5.876,6.006,5.971,6.062,5.913,5.990,6.037,5.943,
  6.021,5.896,5.957,6.072,5.927,5.985,6.046,5.909,5.969,6.034,5.882,6.058,5.940,6.002,5.916,6.025,5.953,6.065,5.898,5.976,
  5.934,6.049,5.992,5.873,6.016,5.958,6.070,5.919,5.983,6.040,5.901,6.061,5.946,6.009,5.928,6.054,5.966,5.889,6.028,5.974,
  6.057,5.911,5.986,6.032,5.879,6.066,5.944,6.011,5.923,5.998,6.047,5.937,6.074,5.955,5.894,6.023,5.964,6.043,5.905,5.981,
  5.955,6.062,5.897,6.088,6.014,5.924,6.071,6.097,5.938,5.983,6.045,5.909,6.026,6.079,5.875,6.052,5.969,6.091,5.946,6.034,
  6.006,5.884,6.084,5.991,6.057,5.931,6.066,5.962,6.040,5.917,6.003,6.093,5.978,5.901,6.077,6.020,5.950,6.068,5.889,6.048,
  6.073,5.915,6.029,5.972,6.094,5.893,6.059,5.939,6.083,6.011,5.960,6.086,5.878,6.044,5.927,6.063,5.996,5.943,6.051,6.016,
  5.982,6.097,5.915,6.110,6.041,5.944,6.073,6.115,5.898,6.058,6.013,5.930,6.104,5.963,6.085,6.028,5.906,6.067,5.995,6.089,
  6.047,5.921,6.102,6.008,5.953,6.079,5.894,6.118,6.034,5.975,6.092,5.938,6.061,6.019,5.909,6.107,5.986,6.054,6.071,5.960,
  5.968,6.103,6.036,5.983,6.118,6.061,5.942,6.127,6.082,6.010,6.112,5.925,6.095,6.052,5.915,6.074,6.120,6.003,5.957,6.088,
  6.047,6.124,5.934,6.066,6.131,5.989,6.108,6.039,6.117,6.021,5.976,6.098,6.070,6.116,5.950,6.059,6.091,6.128,6.030,6.105,
  6.078,6.122,5.973,6.137,6.045,6.101,6.015,6.129,6.090,5.968,6.133,6.060,6.118,6.031,6.111,6.139,5.990,6.084,6.126,6.067,
  6.092,6.131,6.018,6.143,6.066,6.110,5.995,6.137,6.124,6.049,6.104,6.140,6.080,6.127,6.008,6.115,6.058,6.144,6.120,6.035,
  6.060,6.138,6.112,6.146,6.089,6.025,6.141,6.127,6.103,6.148,6.072,6.133,6.118,6.043,6.145,6.096,6.130,6.081,6.121,6.140,
  6.087,6.143,6.118,6.152,6.046,6.131,6.104,6.155,6.137,6.070,6.149,6.125,6.094,6.140,6.112,6.058,6.147,6.133,6.080,6.151,
  6.122,6.145,6.098,6.150,6.133,6.110,6.141,6.082,6.148,6.127,6.153,6.139,6.115,6.092,
  6.128,6.140,6.118,6.136,6.105,6.131,6.143,6.124,
  5.927,6.018,5.961,6.047,5.899,5.983,6.062,5.938,6.005,5.915,6.033,5.954,5.888,6.068,5.972,6.024,5.945,6.056,5.908,5.990,
  6.040,5.918,5.977,6.063,5.931,6.001,5.892,6.052,5.959,6.015,5.904,5.986,6.067,5.940,6.029,5.966,5.882,6.044,5.922,6.008,
  5.997,5.889,6.054,5.935,6.025,5.963,6.060,5.911,5.980,6.043,5.924,6.011,5.949,6.066,5.901,5.991,6.036,5.953,6.020,5.879,
  6.058,5.941,6.002,5.896,6.038,5.969,6.019,5.928,6.064,5.910,5.987,6.047,5.958,6.030,5.885,5.975,6.055,5.933,6.009,5.950,
  5.948,6.035,5.890,6.060,5.967,6.012,5.924,6.071,5.983,5.905,6.048,5.939,6.022,5.877,5.996,6.056,5.915,6.030,5.960,6.066,
  6.009,5.899,6.063,5.954,6.038,5.930,5.986,6.074,5.912,6.050,5.968,6.017,5.885,6.043,5.946,6.000,6.069,5.921,5.977,6.028,
  5.965,6.052,5.918,6.004,5.880,6.067,5.942,6.031,5.993,5.909,6.059,5.956,6.020,5.935,6.073,5.895,5.980,6.046,5.927,6.012,
  6.036,5.896,6.081,5.958,6.002,5.921,6.095,5.944,6.064,5.880,6.027,6.089,5.969,5.908,6.074,5.932,6.049,5.986,6.091,5.915,
  5.951,6.070,5.888,6.040,5.928,6.086,5.976,6.059,5.902,6.018,5.937,6.083,5.995,6.045,5.914,6.099,5.965,6.025,5.885,6.061,
  6.030,5.905,6.092,5.952,6.113,5.926,6.067,5.990,6.101,5.940,6.078,5.897,6.119,6.007,6.055,5.919,6.088,5.973,6.044,6.108,
  6.011,6.114,5.938,6.090,6.127,6.049,6.102,5.965,6.133,6.025,5.930,6.080,6.121,5.994,6.058,6.109,5.948,6.069,6.125,6.036,
  6.052,6.123,5.985,6.096,6.135,6.010,6.114,6.139,6.071,6.030,6.128,5.975,6.107,6.063,6.131,6.041,6.087,6.118,6.138,6.020
];

// ---- samples with chisq < 6.9762 ----
const lowChisq = [
  6.88,6.95,6.91,6.97,6.89,6.93,6.96,6.90,6.94,6.87,6.92,6.97,6.88,6.95,6.90,6.93,6.96,6.89,6.91,6.94,
  6.97,6.88,6.92,6.95,6.90,6.87,6.93,6.96,6.89,6.91,6.94,6.97,6.90,6.92,6.88,6.95,6.91,6.93,6.96,6.89,
  6.87,6.94,6.92,6.90,6.97,6.88,6.95,6.93,6.91,6.96,
  6.89,6.93,6.96,6.91,6.88,6.94,6.92,6.97,6.90,6.95,6.87,6.93,6.91,6.96,6.89,
  6.94,6.92,6.88,6.95,6.90,6.97,6.91,6.93,6.89,6.96,6.92,6.88,6.94,6.90,6.95
];
const lowLength = [
  5.1,11.8,7.7,15.0,9.5,6.3,13.2,8.6,10.9,7.0,14.1,5.6,10.2,12.3,7.4,14.5,6.7,11.3,9.0,12.7,
  4.9,10.5,13.6,6.0,9.3,12.0,8.0,15.2,6.4,9.8,12.4,8.4,14.3,5.4,11.1,8.3,11.5,5.3,10.0,13.8,
  7.2,13.0,8.8,10.7,14.7,7.5,5.8,12.2,9.4,13.4,
  6.1,9.2,13.9,7.9,11.6,5.0,14.9,10.4,8.1,12.5,6.8,13.1,9.7,11.0,5.7,
  14.4,7.3,10.8,12.9,8.7,6.5,11.9,14.0,9.1,5.2,12.1,7.7,10.3,13.5,8.9
];
const lowWidth = [
  4.2,9.5,6.4,11.4,7.7,5.1,10.4,6.9,8.6,5.6,11.0,4.6,8.1,9.8,6.0,11.6,5.3,8.9,7.2,10.0,
  4.0,8.4,10.7,4.9,7.4,9.3,6.6,11.2,5.4,7.9,9.7,6.2,11.5,4.4,8.7,6.8,9.1,4.5,8.0,10.9,
  5.8,10.2,7.0,8.5,11.3,6.3,4.8,9.6,7.6,10.5,
  5.0,7.1,10.6,6.3,8.8,4.3,11.1,8.2,6.0,9.4,5.5,10.0,7.3,8.4,4.7,
  10.8,5.9,8.1,9.9,6.5,5.2,9.0,10.3,7.0,4.1,9.2,5.7,7.8,10.1,6.7
];
const lowDepth = [
  6.2,8.8,7.1,10.1,7.9,6.5,9.4,7.4,8.3,6.7,9.8,6.3,7.7,9.1,7.0,10.2,6.6,8.6,7.5,9.2,
  6.1,8.1,9.6,6.4,7.3,8.9,7.6,10.0,6.8,8.0,9.0,7.2,9.9,6.2,8.4,6.9,8.7,6.5,7.8,9.5,
  7.1,9.3,7.6,8.2,9.7,7.3,6.3,9.0,7.9,9.6,
  6.8,7.7,9.8,7.2,8.6,6.3,10.2,8.1,7.0,9.0,6.5,9.3,7.8,8.4,6.2,
  9.6,7.0,8.3,9.1,7.5,6.6,8.8,9.9,7.6,6.4,8.9,7.1,8.0,9.4,7.4
];
const lowStrike = [
  237.3,245.2,240.4,247.9,242.6,238.7,246.5,241.2,243.8,239.5,247.4,238.0,242.3,245.5,239.9,248.1,238.5,244.3,241.5,245.9,
  237.1,243.2,246.8,238.2,241.8,244.7,240.2,247.7,239.0,242.9,245.6,240.9,247.5,237.7,243.6,239.7,245.0,237.5,242.5,247.0,
  239.2,246.2,241.3,243.4,248.0,240.5,237.9,245.3,242.0,246.6,
  238.1,241.5,246.9,239.8,244.5,237.4,247.6,243.0,240.0,245.1,238.8,246.0,241.9,243.7,237.8,
  246.4,239.3,242.8,245.8,240.7,238.5,244.0,247.2,241.1,237.6,244.9,239.0,242.2,246.6,240.4
];
const lowDip = [
  0.4,4.8,1.2,5.9,0.9,2.6,5.5,1.9,3.9,0.2,2.8,4.2,0.7,3.1,0.5,3.7,2.0,1.3,2.2,4.6,
  6.1,0.1,1.5,5.2,2.1,0.6,4.0,3.4,0.3,1.7,2.4,5.0,1.0,3.3,1.0,4.4,0.8,1.4,5.8,1.6,
  0.9,1.1,2.5,1.4,5.6,0.5,2.7,3.0,2.9,4.9,
  1.2,2.0,4.5,0.8,0.3,3.6,1.5,5.3,1.6,2.2,0.1,3.4,2.5,0.9,0.6,
  1.3,3.0,0.9,5.0,0.4,3.8,1.9,0.5,1.5,5.7,2.3,0.2,4.3,2.0,1.0
];
const lowSlip = [
  0.19,0.55,0.31,0.78,0.42,0.24,0.66,0.36,0.48,0.28,0.71,0.21,0.39,0.60,0.33,0.88,0.26,0.51,0.45,0.63,
  0.18,0.46,0.74,0.23,0.37,0.57,0.30,0.81,0.27,0.43,0.62,0.35,0.69,0.20,0.50,0.32,0.58,0.22,0.41,0.76,
  0.29,0.65,0.38,0.53,0.84,0.34,0.25,0.59,0.44,0.72,
  0.22,0.36,0.70,0.29,0.52,0.18,0.80,0.47,0.33,0.61,0.25,0.67,0.40,0.55,0.20,
  0.74,0.31,0.49,0.64,0.38,0.23,0.58,0.77,0.43,0.19,0.63,0.27,0.45,0.69,0.35
];
const lowMw = [
  5.893,6.012,5.945,6.041,5.968,5.907,6.028,5.952,5.990,5.920,6.036,5.899,5.961,6.005,5.931,6.044,5.914,5.983,5.941,6.019,
  5.890,5.973,6.032,5.903,5.957,6.000,5.936,6.039,5.911,5.965,6.015,5.948,6.043,5.895,5.978,5.926,6.008,5.897,5.960,6.025,
  5.917,6.021,5.955,5.987,6.045,5.939,5.905,6.003,5.970,6.030,
  5.905,5.950,6.033,5.929,5.985,5.891,6.042,5.976,5.918,6.006,5.900,6.021,5.958,5.993,5.896,
  6.037,5.923,5.969,6.014,5.943,5.898,5.997,6.040,5.947,5.892,6.002,5.915,5.963,6.027,5.935
];

// ---- samples with chisq < 6.8662 ----
const bestChisq = [
  6.78,6.84,6.81,6.86,6.77,6.83,6.80,6.85,6.79,6.82,6.86,6.78,6.84,6.80,6.83,6.77,6.85,6.81,6.79,6.86,
  6.82,6.78,6.84,6.80,6.85,6.77,6.83,6.81,6.79,6.86,6.75,6.73,6.71,6.74,6.70,6.72,6.69,6.75,6.73,6.71,
  6.80,6.85,6.78,6.83,6.86,6.79,6.82,6.77,6.84,6.81,6.86,6.80,6.83,6.78,6.85,
  6.81,6.84,6.79,6.86,6.82,6.77,6.83,6.80,6.85,6.76,6.74,6.72,6.76,6.70,6.74
];
const bestLength = [
  5.3,11.8,8.7,14.0,7.0,12.9,9.9,13.5,6.1,10.8,14.2,8.1,12.3,9.3,13.1,6.6,11.2,10.4,5.6,13.8,
  9.0,7.6,12.6,10.1,13.9,8.4,11.5,9.6,5.9,12.0,11.3,9.9,10.8,10.0,10.4,11.0,10.6,9.7,11.2,10.2,
  7.9,12.6,6.0,11.1,13.6,8.8,10.0,5.5,13.0,9.3,14.1,7.2,11.7,6.8,12.2,
  9.7,13.3,8.3,10.7,11.4,7.5,12.8,9.0,13.8,10.9,10.1,10.7,11.5,10.4,9.8
];
const bestWidth = [
  4.5,9.4,6.6,10.7,5.6,8.8,7.4,10.2,4.9,8.0,10.5,6.1,9.0,7.0,9.7,5.2,8.5,7.7,4.3,10.0,
  6.9,5.9,9.3,7.3,10.4,6.3,8.3,7.9,5.0,8.7,8.3,7.2,8.0,7.4,7.9,7.5,7.8,8.1,7.3,7.6,
  5.8,9.6,4.7,8.4,10.3,6.4,7.6,4.4,9.9,7.1,10.6,5.4,8.9,5.1,9.2,
  7.3,10.0,6.2,8.1,8.6,5.5,9.5,6.8,10.4,8.6,7.1,8.2,6.9,7.5,8.0
];
const bestDepth = [
  6.6,8.9,7.5,9.8,7.0,9.2,8.1,9.6,6.8,8.5,9.9,7.3,9.0,7.9,9.4,6.7,8.7,8.2,6.5,9.7,
  7.8,7.1,9.1,8.3,9.5,7.6,8.8,8.0,6.9,9.3,8.2,7.2,7.9,7.4,7.7,7.5,7.6,8.0,7.3,7.8,
  7.2,9.3,6.6,8.7,9.8,7.6,8.2,6.8,9.5,8.0,9.9,7.0,9.0,6.9,9.4,
  8.1,9.6,7.4,8.5,8.8,6.7,9.2,7.8,9.7,8.4,7.1,8.0,8.6,7.5,7.3
];
const bestStrike = [
  238.0,245.4,241.3,247.0,239.5,246.1,242.8,246.6,238.6,244.0,247.1,240.2,245.0,242.1,246.3,239.1,244.6,243.4,237.7,246.9,
  241.9,240.6,245.8,243.0,246.8,240.9,244.9,242.5,238.3,245.2,243.9,242.4,243.6,242.7,243.2,243.5,243.0,242.6,243.8,243.3,
  240.0,246.0,238.2,244.4,247.0,240.8,243.3,238.9,246.5,242.3,246.9,239.7,245.4,239.2,245.9,
  242.0,246.2,241.2,243.7,244.9,239.8,245.6,241.6,246.7,244.2,242.2,243.9,244.5,242.9,242.5
];
const bestDip = [
  0.3,2.1,0.9,3.4,0.1,1.6,0.6,2.9,0.8,1.2,2.6,0.5,1.4,1.1,2.3,0.2,1.9,1.5,0.4,3.1,
  1.8,0.2,2.5,0.9,1.0,0.3,0.7,1.3,0.6,1.7,0.7,0.2,0.6,0.3,0.5,0.4,0.4,0.1,0.6,0.3,
  1.0,2.4,0.3,1.9,3.3,0.9,0.4,0.1,1.3,1.6,2.8,0.5,0.8,0.6,1.8,
  0.7,2.5,0.2,1.4,1.2,0.3,2.2,1.1,0.6,0.9,0.2,0.6,0.1,0.3,0.7
];
const bestSlip = [
  0.19,0.60,0.38,0.76,0.27,0.67,0.45,0.72,0.22,0.52,0.77,0.33,0.63,0.42,0.70,0.24,0.57,0.48,0.18,0.74,
  0.40,0.30,0.65,0.46,0.73,0.35,0.59,0.43,0.21,0.62,0.38,0.30,0.36,0.31,0.35,0.33,0.34,0.29,0.37,0.32,
  0.26,0.66,0.20,0.55,0.75,0.31,0.44,0.18,0.70,0.39,0.77,0.24,0.61,0.29,0.68,
  0.41,0.72,0.34,0.50,0.58,0.22,0.64,0.36,0.74,0.45,0.28,0.39,0.41,0.32,0.36
];
const bestMw = [
  5.902,6.021,5.950,6.038,5.918,6.005,5.962,6.030,5.909,5.984,6.040,5.931,6.013,5.955,6.026,5.913,5.996,5.972,5.905,6.034,
  5.944,5.925,6.018,5.966,6.036,5.938,5.990,5.958,5.907,6.009,5.975,5.934,5.966,5.941,5.958,5.947,5.955,5.970,5.938,5.962,
  5.928,6.025,5.904,5.992,6.039,5.941,5.970,5.900,6.032,5.955,6.040,5.917,6.010,5.911,6.028,
  5.963,6.035,5.935,5.980,6.001,5.909,6.020,5.946,6.037,5.985,5.930,5.968,5.990,5.944,5.960
];

// ---- minimum-misfit sample ----
const minChisq = 6.6762;
const minParams = [10.5, 7.7, 7.6, 243.1, 0.4, 0.337, 5.952];

// ---- panel descriptions ----
const panelTitles = ["Lmd", "Wmd", "depthmd", "alphmd", "deltamd", "u2md", "Mwmd"];
const xLabels = ["Length km", "Width km", "depth km", "strike deg", "dip deg", "slip (thrust) m", "Mw"];
const xDomains = [[0, 20], [0, 15], [0, 15], [235, 255], [0, 10], [0, 1], [5.79, 6.4]];
const xTicks = [[0, 5, 10, 15, 20], [0, 5, 10, 15], [0, 5, 10, 15], [235, 240, 245, 250, 255], [0, 5, 10], [0, 0.5, 1], [6, 6.2, 6.4]];
const yDomain = [6, 14];
const yTicks = [6, 7, 8, 9, 10, 11, 12, 13, 14];
const yLabel = "chisq mm";
const legendLabels = ["ALL", "chisq<6.9762", "chisq<6.8662", "minchisq 6.6762"];

const allX = [lengthKm, widthKm, depthKm, strikeDeg, dipDeg, slipM, mw];
const lowX = [lowLength, lowWidth, lowDepth, lowStrike, lowDip, lowSlip, lowMw];
const bestX = [bestLength, bestWidth, bestDepth, bestStrike, bestDip, bestSlip, bestMw];

// ---- layout: plot boxes in pixels ----
const boxes = [
  { x0: 42.7,  x1: 210,   y0: 26,    y1: 294,   tickPad: 6.5, labelDy: 26,   titleDy: -7.5 },
  { x0: 264.3, x1: 434,   y0: 26,    y1: 294,   tickPad: 6.5, labelDy: 26,   titleDy: -7.5 },
  { x0: 487.7, x1: 658.3, y0: 26,    y1: 294,   tickPad: 6.5, labelDy: 26,   titleDy: -7.5 },
  { x0: 710,   x1: 878.7, y0: 26,    y1: 294,   tickPad: 6.5, labelDy: 26,   titleDy: -7.5 },
  { x0: 42.7,  x1: 210,   y0: 397.3, y1: 663.3, tickPad: 7.5, labelDy: 29,   titleDy: -8.5 },
  { x0: 265,   x1: 433.3, y0: 397.3, y1: 663.3, tickPad: 7.5, labelDy: 29,   titleDy: -8.5 },
  { x0: 524.3, x1: 645.7, y0: 400,   y1: 663.3, tickPad: 7.5, labelDy: 29,   titleDy: -8.5 }
];

const svg = d3.select("#chart");
const fmt = d3.format("~g");
const star = d3.symbol().type(d3.symbolStar).size(44);

boxes.forEach((b, i) => {
  const x = d3.scaleLinear().domain(xDomains[i]).range([b.x0, b.x1]);
  const y = d3.scaleLinear().domain(yDomain).range([b.y1, b.y0]);
  const g = svg.append("g");

  // all samples
  g.append("g").selectAll("circle").data(chisq).join("circle")
    .attr("cx", (d, k) => x(allX[i][k])).attr("cy", d => y(d))
    .attr("r", 1.05).attr("fill", "#000");
  // chisq < 6.9762
  g.append("g").selectAll("circle").data(lowChisq).join("circle")
    .attr("cx", (d, k) => x(lowX[i][k])).attr("cy", d => y(d))
    .attr("r", 1.6).attr("fill", "#0000ff");
  // chisq < 6.8662
  g.append("g").selectAll("circle").data(bestChisq).join("circle")
    .attr("cx", (d, k) => x(bestX[i][k])).attr("cy", d => y(d))
    .attr("r", 1.7).attr("fill", "#ff0000");
  // minimum
  g.append("path").attr("d", star)
    .attr("transform", `translate(${x(minParams[i])},${y(minChisq)})`)
    .attr("fill", "#e8173f");

  // axes with inward ticks on all four sides
  const tk = 4;
  const bottom = g.append("g").attr("transform", `translate(0,${b.y1})`)
    .call(d3.axisBottom(x).tickValues(xTicks[i]).tickFormat(fmt).tickSize(-tk).tickPadding(b.tickPad));
  const top = g.append("g").attr("transform", `translate(0,${b.y0})`)
    .call(d3.axisTop(x).tickValues(xTicks[i]).tickFormat("").tickSize(-tk));
  const left = g.append("g").attr("transform", `translate(${b.x0},0)`)
    .call(d3.axisLeft(y).tickValues(yTicks).tickFormat(fmt).tickSize(-tk).tickPadding(4.5));
  const right = g.append("g").attr("transform", `translate(${b.x1},0)`)
    .call(d3.axisRight(y).tickValues(yTicks).tickFormat("").tickSize(-tk));
  [bottom, top, left, right].forEach(a => {
    a.select(".domain").remove();
    a.selectAll("line").attr("stroke", "#000").attr("stroke-width", 0.8);
    a.selectAll("text").attr("font-size", 10).attr("fill", "#111")
      .style("font-family", '"Liberation Sans", Arial, sans-serif');
  });
  left.selectAll("text").attr("dy", "0.22em");

  g.append("rect").attr("x", b.x0).attr("y", b.y0)
    .attr("width", b.x1 - b.x0).attr("height", b.y1 - b.y0)
    .attr("fill", "none").attr("stroke", "#000").attr("stroke-width", 1);

  const cx = (b.x0 + b.x1) / 2;
  g.append("text").attr("x", cx).attr("y", b.y0 + b.titleDy)
    .attr("text-anchor", "middle").attr("font-size", 11).text(panelTitles[i]);
  g.append("text").attr("x", cx).attr("y", b.y1 + b.labelDy)
    .attr("text-anchor", "middle").attr("font-size", 11).text(xLabels[i]);
  g.append("text")
    .attr("transform", `translate(${b.x0 - 23.5},${(b.y0 + b.y1) / 2}) rotate(-90)`)
    .attr("text-anchor", "middle").attr("font-size", 11).text(yLabel);
});

// ---- legend ----
const lg = svg.append("g");
lg.append("rect").attr("x", 678).attr("y", 407).attr("width", 128).attr("height", 63)
  .attr("fill", "#fff").attr("stroke", "#000").attr("stroke-width", 1);
const rowY = [416.5, 429.5, 445, 460.5];
lg.append("circle").attr("cx", 700).attr("cy", rowY[0]).attr("r", 0.5).attr("fill", "#000");
lg.append("circle").attr("cx", 700).attr("cy", rowY[1]).attr("r", 1.1).attr("fill", "#223");
lg.append("circle").attr("cx", 700).attr("cy", rowY[2]).attr("r", 0.5).attr("fill", "#ff0000");
lg.append("path").attr("d", d3.symbol().type(d3.symbolStar).size(55))
  .attr("transform", `translate(700,${rowY[3]})`).attr("fill", "#e8173f");
legendLabels.forEach((t, k) => {
  lg.append("text").attr("x", 721).attr("y", rowY[k] + 3.8).attr("font-size", 11).text(t);
});
</script>
</body>
</html>
